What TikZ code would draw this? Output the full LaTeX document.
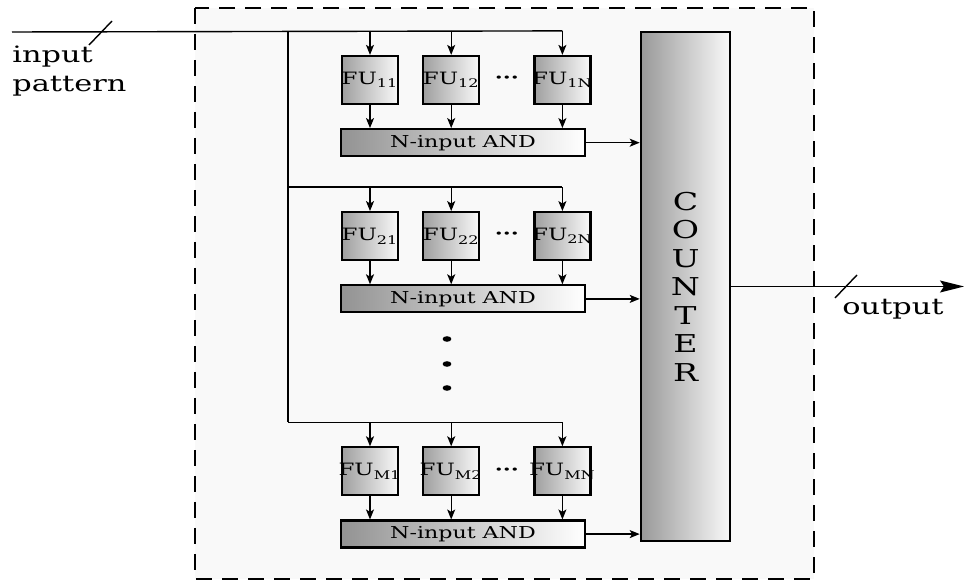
\documentclass[tikz,border=0pt]{standalone}
\usepackage{fontspec}
\setmainfont{DejaVu Serif}[FakeStretch=1.35]
\usetikzlibrary{arrows.meta,positioning,calc}

\newcommand{\fulabel}[1]{\makebox[25pt]{FU\textsubscript{#1}}}

\begin{document}
\begin{tikzpicture}[
    x=0.5pt, y=-0.5pt,
    fu/.style={draw, line width=1.1pt, left color=gray!75, right color=gray!5, minimum width=28pt, minimum height=24pt, inner sep=0pt, font=\fontsize{8.5}{10}\selectfont},
    andgate/.style={draw, line width=1.1pt, left color=gray!85, right color=white, minimum width=122pt, minimum height=13.5pt, inner sep=0pt, font=\fontsize{8.2}{9}\selectfont},
    counter/.style={draw, line width=1.3pt, left color=gray!80, right color=gray!5, minimum width=44.5pt, minimum height=254.5pt, align=center, font=\fontsize{12.3}{14.25}\selectfont},
    hdots/.style={inner sep=0pt, font=\fontsize{8.5}{9}\selectfont\bfseries},
    wire/.style={line width=0.7pt},
    arr/.style={wire, -{Stealth[length=5pt, width=4pt, inset=1.2pt]}},
    iolabel/.style={inner sep=0pt, font=\fontsize{11.25}{14.5}\selectfont, align=left},
    node distance=11.5pt and 11.5pt,
  ]
  \useasboundingbox (0,0) rectangle (966,581);
  % Frame
  \draw[line width=1.2pt, dash pattern=on 8pt off 5pt, fill=gray!5] (195,8) rectangle (814,579);

  % Row 1
  \node[fu] (fu11) at (370,80) {\fulabel{11}};
  \node[fu, right=of fu11] (fu12) {\fulabel{12}};
  \node[fu, right=26.5pt of fu12] (fu1N) {\fulabel{1N}};
  \node[hdots] (dots1) at ($(fu12.east)!0.5!(fu1N.west)$) {···};
  \node[andgate, below right=11.5pt and -0.5pt of fu11.south west] (and1) {N-input AND};

  % Row 2
  \node[fu, below=53pt of fu11] (fu21) {\fulabel{21}};
  \node[fu, right=of fu21] (fu22) {\fulabel{22}};
  \node[fu, right=26.5pt of fu22] (fu2N) {\fulabel{2N}};
  \node[hdots] (dots2) at ($(fu22.east)!0.5!(fu2N.west)$) {···};
  \node[andgate, below right=11.5pt and -0.5pt of fu21.south west] (and2) {N-input AND};

  % Row M
  \node[fu, below=92.5pt of fu21] (fuM1) {\fulabel{M1}};
  \node[fu, right=of fuM1] (fuM2) {\fulabel{M2}};
  \node[fu, right=26.5pt of fuM2] (fuMN) {\fulabel{MN}};
  \node[hdots] (dotsM) at ($(fuM2.east)!0.5!(fuMN.west)$) {···};
  \node[andgate, below right=11.5pt and -0.5pt of fuM1.south west] (andM) {N-input AND};

  % Counter and labels
  \node[counter] (counter) at (685.5,286.5) {C\\O\\U\\N\\T\\E\\R};
  \node[iolabel, anchor=north west] (inlabel) at (12,46) {input\\pattern};
  \node[iolabel, anchor=base west] (outlabel) at (842,315) {output};

  % vertical dots
  \fill (447,339) ellipse [x radius=2.2pt, y radius=1.4pt];
  \fill (447,364) ellipse [x radius=2.2pt, y radius=1.4pt];
  \fill (447,388) ellipse [x radius=2.2pt, y radius=1.4pt];

  % Wires
  \coordinate (in) at (12,32);
  \coordinate (bus) at (288,32);
  \coordinate (out) at (964,287);
  \coordinate[above=12pt of fu11] (b1);
  \coordinate[above=12pt of fu21] (b2);
  \coordinate[above=12pt of fuM1] (bM);
  \draw[wire] (in) -- (b1 -| fu1N);
  \draw[wire] (bus) -- (bus |- bM);
  \draw[wire] (bus |- b2) -- (b2 -| fu2N);
  \draw[wire] (bus |- bM) -- (bM -| fuMN);
  \foreach \f/\b in {fu11/b1, fu12/b1, fu1N/b1, fu21/b2, fu22/b2, fu2N/b2, fuM1/bM, fuM2/bM, fuMN/bM}
    \draw[arr] (\f |- \b) -- (\f);
  \foreach \f/\a in {fu11/and1, fu12/and1, fu1N/and1, fu21/and2, fu22/and2, fu2N/and2, fuM1/andM, fuM2/andM, fuMN/andM}
    \draw[arr] (\f) -- (\f |- \a.north);
  \draw[arr] (and1) -- (and1 -| counter.west);
  \draw[arr] (and2) -- (and2 -| counter.west);
  \draw[arr] (andM) -- (andM -| counter.west);
  \draw[wire, -{Stealth[length=12pt, width=6pt, inset=2pt]}] (counter) -- (counter -| out);

  % bus width marks
  \draw[wire] (89,45) -- (112,21);
  \draw[wire] (835,298) -- (857,275);
\end{tikzpicture}
\end{document}
